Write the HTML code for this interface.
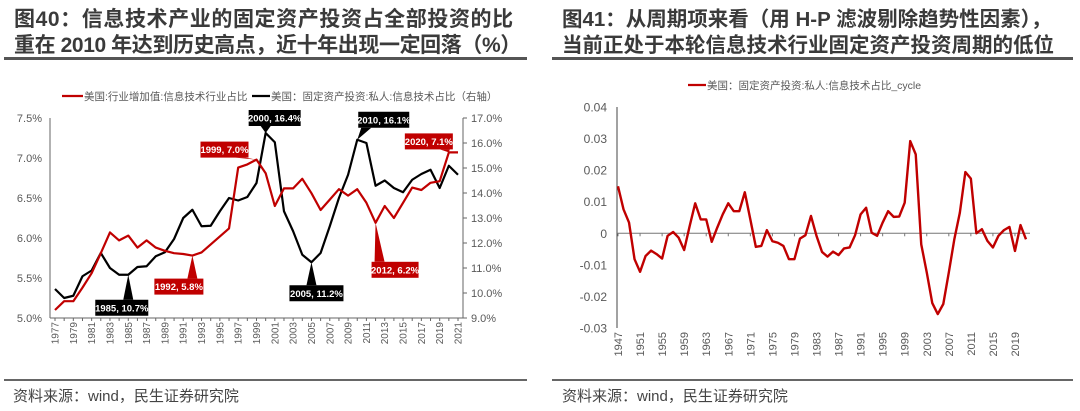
<!DOCTYPE html>
<html><head><meta charset="utf-8"><style>
html,body{margin:0;padding:0;background:#fff;}
body{width:1080px;height:411px;overflow:hidden;position:relative;font-family:"Liberation Sans","Noto Sans CJK SC",sans-serif;}
.title{position:absolute;font-weight:bold;font-size:20.5px;line-height:26px;color:#3a3a3a;white-space:nowrap;font-family:"Liberation Sans","Noto Sans CJK SC",sans-serif;}
.rule{position:absolute;height:3px;background:#555;}
.brule{position:absolute;height:2px;background:#666;}
.src{position:absolute;font-size:15px;color:#444;top:385px;}
svg{position:absolute;left:0;top:0;}
svg text{font-family:"Liberation Sans","Noto Sans CJK SC",sans-serif;}
</style></head><body>
<div class="title" style="left:14px;top:7px;font-size:21px;"><span style="letter-spacing:0.6px">图40：信息技术产业的固定资产投资占全部投资的比</span><br><span style="letter-spacing:-0.4px">重在 2010 年达到历史高点，近十年出现一定回落（%）</span></div>
<div class="rule" style="left:4px;top:57px;width:523px;"></div>
<div class="title" style="left:562px;top:7px;">图41：从周期项来看（用 H-P 滤波剔除趋势性因素），<br>当前正处于本轮信息技术行业固定资产投资周期的低位</div>
<div class="rule" style="left:552px;top:57px;width:521px;"></div>
<div class="brule" style="left:4px;top:379px;width:523px;"></div>
<div class="brule" style="left:552px;top:379px;width:521px;"></div>
<div class="src" style="left:13px;">资料来源：wind，民生证券研究院</div>
<div class="src" style="left:562px;">资料来源：wind，民生证券研究院</div>
<svg id="chart" width="1080" height="411"></svg>
<script>
const leftYears = Array.from({length:45},(_, i)=>1977+i);
const redShare = [5.10,5.21,5.21,5.38,5.56,5.81,6.07,5.97,6.03,5.88,5.97,5.88,5.84,5.81,5.80,5.78,5.82,5.92,6.02,6.12,6.88,6.92,6.98,6.81,6.40,6.62,6.62,6.74,6.56,6.35,6.48,6.61,6.53,6.61,6.44,6.19,6.40,6.25,6.44,6.63,6.60,6.69,6.71,7.07,7.07];
const blackInvest = [10.16,9.80,9.89,10.67,10.90,11.60,11.00,10.73,10.73,11.04,11.07,11.47,11.63,12.16,13.00,13.33,12.67,12.69,13.27,13.80,13.70,13.84,14.40,16.40,16.03,13.27,12.47,11.53,11.23,11.60,12.67,13.80,14.73,16.13,16.00,14.29,14.50,14.20,14.03,14.53,14.76,14.93,14.20,15.09,14.73];
const leftTicks = ["5.0%","5.5%","6.0%","6.5%","7.0%","7.5%"];
const leftTickVals = [5.0,5.5,6.0,6.5,7.0,7.5];
const rightTicks = ["9.0%","10.0%","11.0%","12.0%","13.0%","14.0%","15.0%","16.0%","17.0%"];
const rightTickVals = [9,10,11,12,13,14,15,16,17];
const cycleYears = Array.from({length:75},(_, i)=>1947+i);
const cycleVals = [0.0149,0.0076,0.0034,-0.0082,-0.0122,-0.0072,-0.0055,-0.0066,-0.008,-0.0008,0.0004,-0.0014,-0.0053,0.0023,0.0095,0.0044,0.0044,-0.0027,0.0018,0.006,0.0095,0.007,0.007,0.013,0.0044,-0.0043,-0.004,0.001,-0.0025,-0.003,-0.004,-0.0082,-0.0082,-0.0017,-0.0006,0.0055,-0.0008,-0.0059,-0.0074,-0.0058,-0.0069,-0.0048,-0.0045,-0.0006,0.006,0.0081,0.0002,-0.0008,0.0034,0.007,0.0052,0.0053,0.0097,0.0292,0.025,-0.0035,-0.0124,-0.0221,-0.0256,-0.0224,-0.0124,-0.0019,0.0065,0.0194,0.0173,0.0,0.0013,-0.0024,-0.0045,-0.0008,0.001,0.002,-0.0056,0.0026,-0.0019];
const cycleTicks = ["-0.03","-0.02","-0.01","0","0.01","0.02","0.03","0.04"];
const cycleTickVals = [-0.03,-0.02,-0.01,0,0.01,0.02,0.03,0.04];
const callouts = [
 {label:"1985, 10.7%", year:1985, series:"black", dx:-33, dy:25, w:53},
 {label:"1992, 5.8%", year:1992, series:"red", dx:-38, dy:23, w:49},
 {label:"1999, 7.0%", year:1999, series:"red", dx:-56, dy:-18, w:48},
 {label:"2000, 16.4%", year:2000, series:"black", dx:-17, dy:-23, w:52},
 {label:"2005, 11.2%", year:2005, series:"black", dx:-22, dy:23, w:54},
 {label:"2010, 16.1%", year:2010, series:"black", dx:1, dy:-28, w:51},
 {label:"2012, 6.2%", year:2012, series:"red", dx:-4, dy:39, w:47},
 {label:"2020, 7.1%", year:2020, series:"red", dx:-44, dy:-19, w:48}
];

const svg = document.getElementById('chart');
const NS = 'http://www.w3.org/2000/svg';
function mk(tag, attrs, parent){const e=document.createElementNS(NS,tag);for(const k in attrs)e.setAttribute(k,attrs[k]);(parent||svg).appendChild(e);return e;}

const LX0=55, LX1=458, LT=118, LB=318;
const lx = i => LX0 + i*(LX1-LX0)/(leftYears.length-1);
const lyL = v => LB - (v-5.0)/2.5*(LB-LT);
const lyR = v => LB - (v-9)/8*(LB-LT);

const gL = mk('g',{});


let a = mk('line',{x1:50,y1:LT,x2:50,y2:LB,stroke:'#666','stroke-width':1},gL);


a = mk('line',{x1:463,y1:LT,x2:463,y2:LB,stroke:'#666','stroke-width':1},gL);


a = mk('line',{x1:50,y1:LB,x2:463,y2:LB,stroke:'#666','stroke-width':1},gL);


leftTicks.forEach((t,i)=>{
  const el = mk('text',{x:42,y:lyL(leftTickVals[i])+4,'text-anchor':'end','font-size':11,fill:'#595959'},gL);
  el.textContent=t;
  
  
});
rightTicks.forEach((t,i)=>{
  const y=lyR(rightTickVals[i]);
  mk('line',{x1:463,y1:y,x2:467,y2:y,stroke:'#666'},gL);
  const el = mk('text',{x:471,y:y+4,'font-size':11,fill:'#595959'},gL);
  el.textContent=t;
  
  
});
leftYears.forEach((yr,i)=>{
  const x=lx(i);
  mk('line',{x1:x,y1:LB,x2:x,y2:LB+3,stroke:'#666'},gL);
  if(i%2===0){
    const el=mk('text',{x:0,y:0,'text-anchor':'end','font-size':10,fill:'#595959',transform:`translate(${x+3.5},${LB+4}) rotate(-90)`},gL);
    el.textContent=yr;
    
    
  }
});
let p = mk('polyline',{points:blackInvest.map((v,i)=>lx(i)+','+lyR(v)).join(' '),fill:'none',stroke:'#000','stroke-width':2.2,'stroke-linejoin':'round'},gL);


p = mk('polyline',{points:redShare.map((v,i)=>lx(i)+','+lyL(v)).join(' '),fill:'none',stroke:'#c00000','stroke-width':2.2,'stroke-linejoin':'round'},gL);



callouts.forEach(c=>{
  const i=leftYears.indexOf(c.year);
  const px=lx(i);
  const py=c.series==='red'?lyL(redShare[i]):lyR(blackInvest[i]);
  const color=c.series==='red'?'#c00000':'#000';
  const bx=px+c.dx, by=py+c.dy, h=16;
  const g=mk('g',{},gL);
  
  
  const cx=Math.min(Math.max(px,bx+8),bx+c.w-8);
  const ey = c.dy>0 ? by : by+h;
  mk('polygon',{points:`${px},${py} ${cx-5},${ey} ${cx+5},${ey}`,fill:color},g);
  mk('rect',{x:bx,y:by,width:c.w,height:h,fill:color},g);
  const t=mk('text',{x:bx+c.w/2,y:by+11.5,'text-anchor':'middle','font-size':9.5,'font-weight':'bold',fill:'#fff'},g);
  t.textContent=c.label;
});

let lg = mk('g',{},gL);


mk('line',{x1:62,y1:96,x2:83,y2:96,stroke:'#c00000','stroke-width':2.2},lg);
let tt=mk('text',{x:84,y:100,'font-size':10.5,fill:'#595959'},lg); tt.textContent='美国:行业增加值:信息技术行业占比';
mk('line',{x1:252,y1:96,x2:270,y2:96,stroke:'#000','stroke-width':2.2},lg);
tt=mk('text',{x:271,y:100,'font-size':10.5,fill:'#595959'},lg); tt.textContent='美国：固定资产投资:私人:信息技术占比（右轴）';

const RX0=618, RX1=1026, RT=107, RB=328;
const rx = i => RX0 + i*(RX1-RX0)/(cycleYears.length-1);
const ry = v => RB - (v+0.03)/0.07*(RB-RT);
const gR = mk('g',{});


a = mk('line',{x1:617,y1:RT,x2:617,y2:RB,stroke:'#444','stroke-width':1},gR);


a = mk('line',{x1:617,y1:ry(0),x2:1030,y2:ry(0),stroke:'#777','stroke-width':1},gR);


cycleTicks.forEach((t,i)=>{
  const el=mk('text',{x:607,y:ry(cycleTickVals[i])+4.5,'text-anchor':'end','font-size':12,fill:'#595959'},gR);
  el.textContent=t;
  
  
});
cycleYears.forEach((yr,i)=>{
  if(i%4===0){
    const x=rx(i);
    mk('line',{x1:x,y1:ry(0),x2:x,y2:ry(0)+3,stroke:'#777'},gR);
    const el=mk('text',{x:0,y:0,'text-anchor':'end','font-size':11,fill:'#595959',transform:`translate(${x+4},${RB+4}) rotate(-90)`},gR);
    el.textContent=yr;
    
    
  }
});
p = mk('polyline',{points:cycleVals.map((v,i)=>rx(i)+','+ry(v)).join(' '),fill:'none',stroke:'#c00000','stroke-width':2.4,'stroke-linejoin':'round'},gR);


lg = mk('g',{},gR);


mk('line',{x1:688,y1:85,x2:706,y2:85,stroke:'#c00000','stroke-width':2.2},lg);
tt=mk('text',{x:707,y:89,'font-size':10.5,fill:'#595959'},lg); tt.textContent='美国：固定资产投资:私人:信息技术占比_cycle';
</script>
</body></html>
